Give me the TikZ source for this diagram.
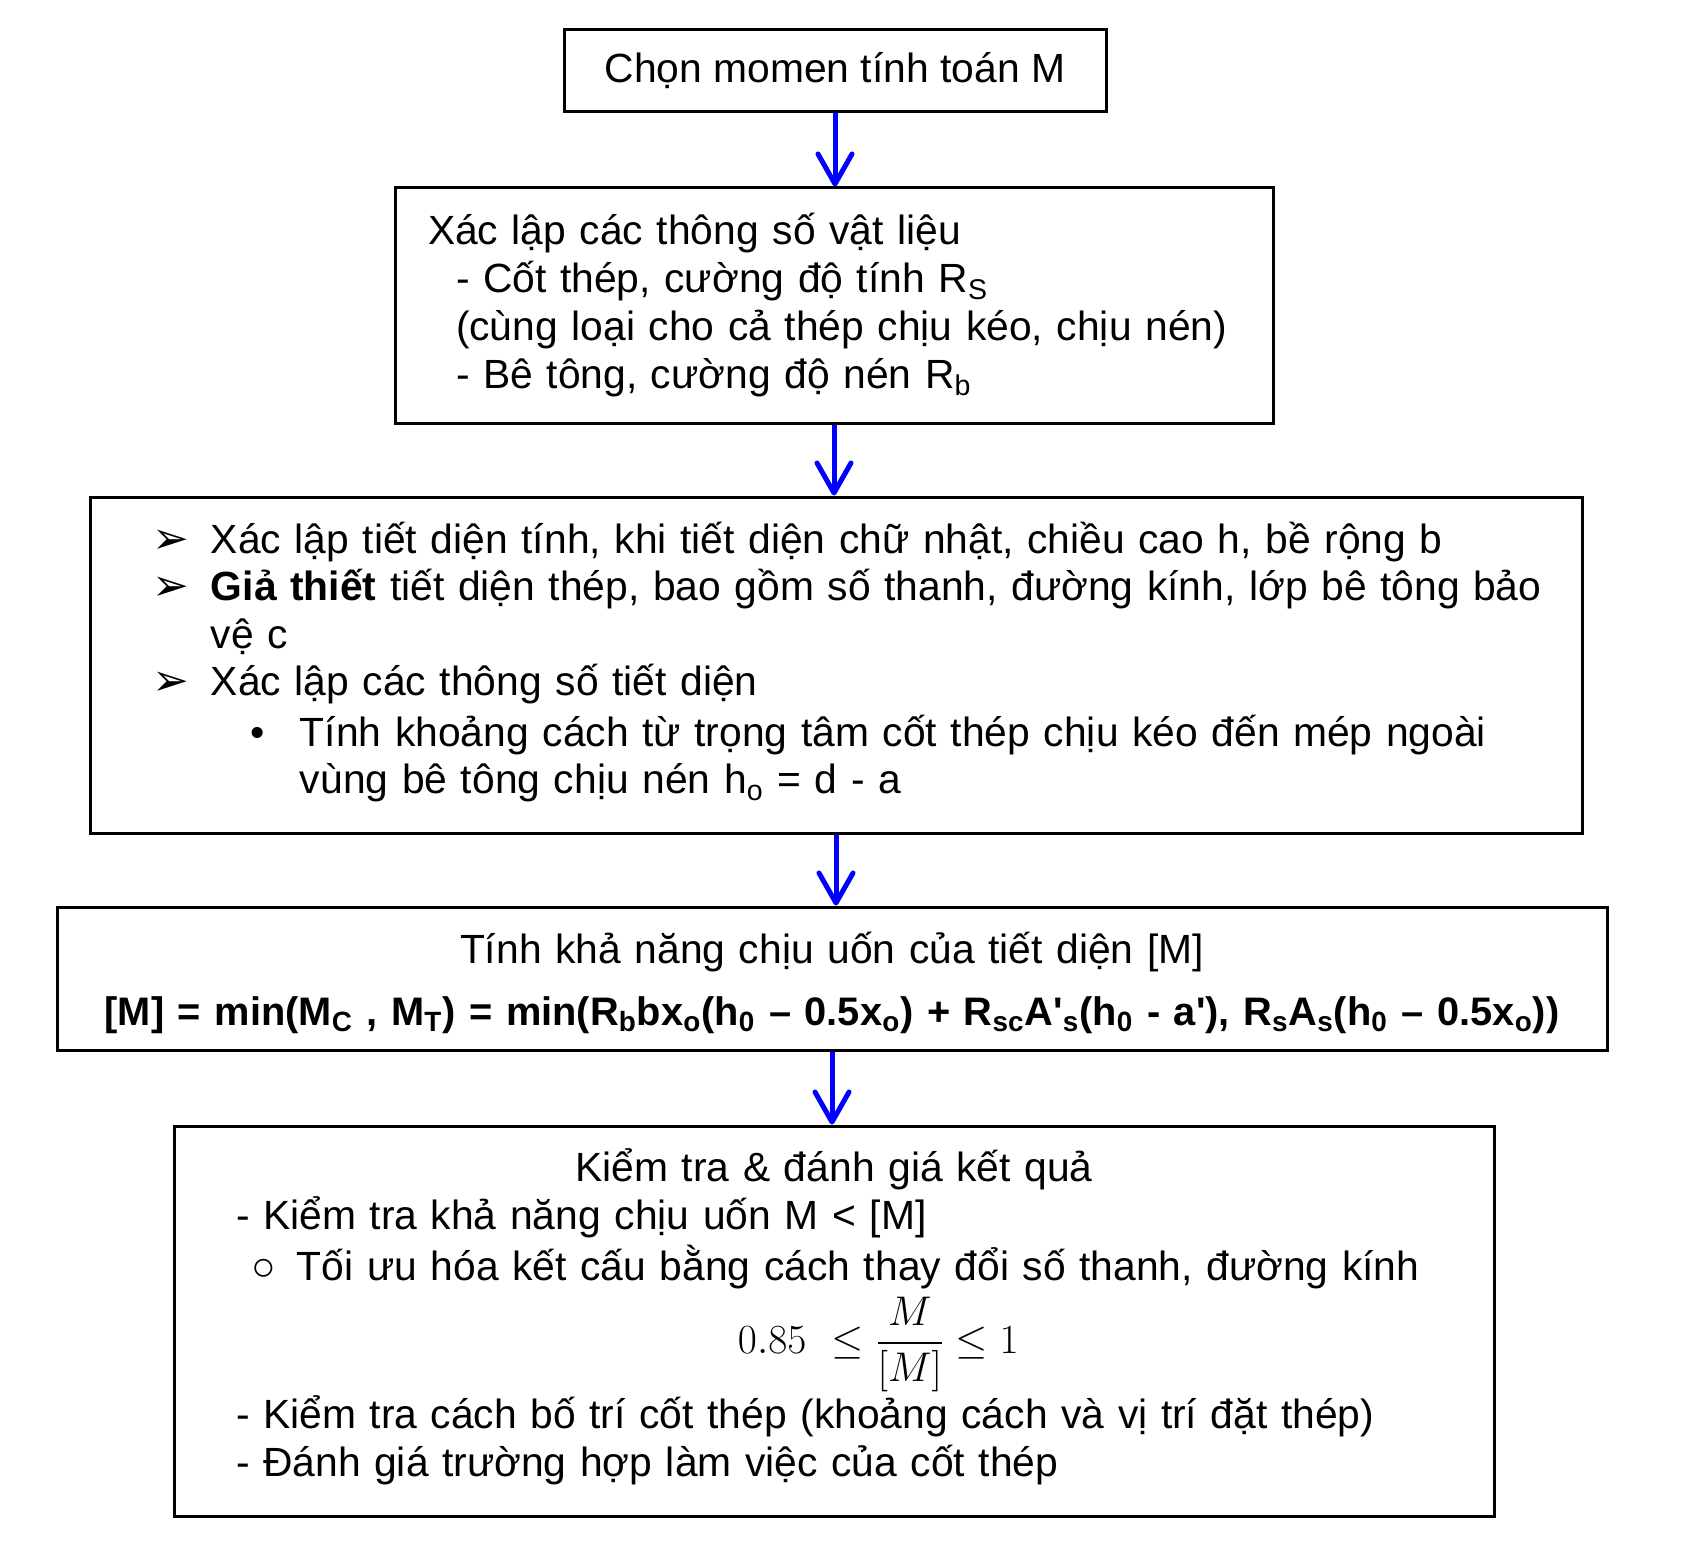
\documentclass[tikz,border=0pt]{standalone}
\usepackage{amsmath}
\usepackage{fontspec}
\setmainfont{Liberation Sans}
\newfontfamily\symfont{DejaVu Sans}
\usetikzlibrary{arrows.meta,positioning}

\newcommand{\muiten}{\makebox[29pt][l]{\symfont\fontsize{22}{22}\selectfont ➢}}

\begin{document}
\begin{tikzpicture}[x=0.5pt,y=-0.5pt,
        box/.style={draw, line width=1.5pt, inner sep=0pt, align=left, font=\fontsize{20.4}{24}\selectfont},
        arrow/.style={-{Straight Barb[round,length=15pt,width=17pt,line width=2.5pt]}, blue, line width=2.5pt}
    ]
    \useasboundingbox (0,0) rectangle (1699,1541);

    % Cac buoc tinh toan
    \node[box, minimum width=271pt, minimum height=41pt, align=center] (chon) at (835,71) {Chọn momen tính toán M};
    \node[box, text width=439pt, minimum height=117.5pt] (vatlieu) at (834,305.5) {%
        \hspace*{16.5pt}Xác lập các thông số vật liệu\\
        \hspace*{30.5pt}- Cốt thép, cường độ tính R\textsubscript{S}\\
        \hspace*{30.5pt}(cùng loại cho cả thép chịu kéo, chịu nén)\\
        \hspace*{30.5pt}- Bê tông, cường độ nén R\textsubscript{b}};
    \node[box, text width=746pt, minimum height=168pt, font=\fontsize{20.4}{23.7}\selectfont] (tietdien) at (836,665) {%
        \hspace*{31.5pt}\muiten Xác lập tiết diện tính, khi tiết diện chữ nhật, chiều cao h, bề rộng b\\
        \hspace*{31.5pt}\muiten\textbf{Giả thiết} tiết diện thép, bao gồm số thanh, đường kính, lớp bê tông bảo\\
        \hspace*{60.5pt}vệ c\\
        \hspace*{31.5pt}\muiten Xác lập các thông số tiết diện\\[1.6pt]
        \hspace*{80.5pt}\makebox[24.5pt][l]{•}Tính khoảng cách từ trọng tâm cốt thép chịu kéo đến mép ngoài\\
        \hspace*{105pt}vùng bê tông chịu nén h\textsubscript{o} = d - a\rule[-7pt]{0pt}{0pt}};
    \node[box, text width=775pt, minimum height=71.5pt, align=center] (khanang) at (832,978.5) {%
        \rule{0pt}{20.2pt}Tính khả năng chịu uốn của tiết diện [M]\\[6.9pt]
        {\fontsize{19.9}{24}\selectfont\textbf{[M] = min(M\textsubscript{C} , M\textsubscript{T}) = min(R\textsubscript{b}bx\textsubscript{o}(h\textsubscript{0} – 0.5x\textsubscript{o}) + R\textsubscript{sc}A\textquotesingle\textsubscript{s}(h\textsubscript{0} - a\textquotesingle), R\textsubscript{s}A\textsubscript{s}(h\textsubscript{0} – 0.5x\textsubscript{o}))}}};
    \node[box, text width=660pt, minimum height=195pt] (kiemtra) at (834,1321) {%
        \makebox[\linewidth]{Kiểm tra \& đánh giá kết quả}\\
        \hspace*{31pt}- Kiểm tra khả năng chịu uốn M < [M]\\[1.5pt]
        \hspace*{38.5pt}\makebox[23pt][l]{○}Tối ưu hóa kết cấu bằng cách thay đổi số thanh, đường kính\\[12.1pt]
        \hspace*{282pt}\smash{$0.85\ \le \dfrac{M}{[M]} \le 1$}\\[13.9pt]
        \hspace*{31pt}- Kiểm tra cách bố trí cốt thép (khoảng cách và vị trí đặt thép)\\
        \hspace*{31pt}- Đánh giá trường hợp làm việc của cốt thép\rule[-8.1pt]{0pt}{0pt}};

    % Mui ten
    \draw[arrow] (chon.south) -- (chon.south |- vatlieu.north);
    \draw[arrow] (vatlieu.south) -- (vatlieu.south |- tietdien.north);
    \draw[arrow] (tietdien.south) -- (tietdien.south |- khanang.north);
    \draw[arrow] (khanang.south) -- (khanang.south |- kiemtra.north);

\end{tikzpicture}
\end{document}
